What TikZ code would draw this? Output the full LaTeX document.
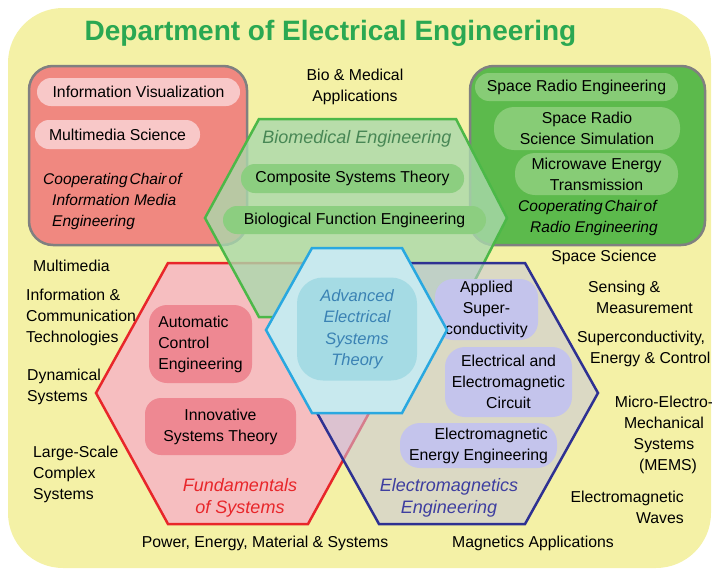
\documentclass[tikz,border=0pt]{standalone}
\usepackage{fontspec}
\setmainfont{Liberation Sans}
\usepackage{xcolor}

\definecolor{bgyellow}{RGB}{244,241,166}
\definecolor{framegray}{RGB}{128,128,128}
\definecolor{redbox}{RGB}{240,136,128}
\definecolor{redpill}{RGB}{248,200,200}
\definecolor{greenbox}{RGB}{92,186,76}
\definecolor{greenpill}{RGB}{135,204,118}
\definecolor{bioedge}{RGB}{76,184,72}
\definecolor{biofill}{RGB}{170,217,172}
\definecolor{biopill}{RGB}{140,206,128}
\definecolor{biotext}{RGB}{72,135,85}
\definecolor{funedge}{RGB}{232,38,42}
\definecolor{funfill}{RGB}{246,190,192}
\definecolor{funpill}{RGB}{238,136,146}
\definecolor{emedge}{RGB}{46,49,146}
\definecolor{emfill}{RGB}{200,198,222}
\definecolor{empill}{RGB}{196,196,236}
\definecolor{emtext}{RGB}{62,62,160}
\definecolor{advedge}{RGB}{41,168,224}
\definecolor{advfill}{RGB}{200,233,238}
\definecolor{advinner}{RGB}{165,219,228}
\definecolor{advtext}{RGB}{58,130,180}
\definecolor{titlegreen}{RGB}{42,168,82}

\begin{document}
\begin{tikzpicture}[
    x=1pt, y=-1pt,
    every node/.style={font=\fontsize{15.8}{21}\selectfont, inner sep=0pt},
    box/.style={draw=framegray, line width=2.5pt, rounded corners=24pt},
    pill/.style={rectangle, rounded corners=14pt, minimum height=28pt, align=center},
    hexa/.style={line width=2.5pt, line join=miter},
    head/.style={font=\fontsize{18}{22}\selectfont\itshape, align=center},
    chair/.style={font=\fontsize{15.5}{21}\selectfont\itshape, anchor=west, align=left},
    txt/.style={align=center}
]
\useasboundingbox (0,0) rectangle (712,573);
\fill[bgyellow, rounded corners=55pt] (8,8) rectangle (711,568);

% chairs
\draw[box, fill=redbox] (29,66) rectangle (247,245);
\node[pill, fill=redpill, minimum width=203pt] (infovis) at (138.5,92) {Information Visualization};
\node[pill, fill=redpill, minimum width=165pt, minimum height=29pt] (mmsci) at (117.5,134.5) {Multimedia Science};
\node[chair] (infochair) at (43,201) {Cooperating\hspace{2pt}Chair\hspace{2pt}of\\\hspace*{9pt}Information Media\\\hspace*{9pt}Engineering};

\draw[box, fill=greenbox] (470,66) rectangle (705,245);
\node[pill, fill=greenpill, minimum width=203pt] (spradio) at (576.5,87) {Space Radio Engineering};
\node[pill, fill=greenpill, rounded corners=20pt, minimum width=186pt, minimum height=43pt] (spsim) at (587,128.5) {Space Radio\\Science Simulation};
\node[pill, fill=greenpill, rounded corners=20pt, minimum width=163pt, minimum height=42pt] (mwave) at (596.5,174) {Microwave Energy\\Transmission};
\node[chair] (radiochair) at (518,218) {Cooperating\hspace{2pt}Chair\hspace{2pt}of\\\hspace*{12pt}Radio Engineering};

% Fundamentals of Systems
\draw[hexa, draw=funedge, fill=funfill] (96,393) -- (168,263) -- (308,263) -- (380,393) -- (308,524) -- (168,524) -- cycle;
\node[pill, fill=funpill, rounded corners=18pt, minimum width=103pt, minimum height=78pt, align=left] (autoctl) at (200.5,344) {Automatic\\Control\\Engineering};
\node[pill, fill=funpill, rounded corners=16pt, minimum width=151pt, minimum height=57pt] (innov) at (220.5,426.5) {Innovative\\Systems Theory};
\node[head, text=funedge] (fundam) at (240,498) {Fundamentals\\of Systems};

% Biomedical Engineering
\draw[hexa, draw=bioedge, fill=biofill, fill opacity=.8] (205,218) -- (259,119) -- (456,119) -- (507,218) -- (456,317) -- (259,317) -- cycle;
\node[head, text=biotext] (biomed) at (357,139) {Biomedical Engineering};
\node[pill, fill=biopill, minimum width=223pt, minimum height=29pt] (compsys) at (352.5,178.5) {Composite Systems Theory};
\node[pill, fill=biopill, minimum width=263pt] (biofunc) at (354.5,220) {Biological Function Engineering};

% Electromagnetics Engineering
\draw[hexa, draw=emedge, fill=emfill, fill opacity=.55] (306,393) -- (379,263) -- (525,263) -- (598,393) -- (525,524) -- (379,524) -- cycle;
\node[pill, fill=empill, rounded corners=18pt, minimum width=103pt, minimum height=61pt] (supcond) at (486.5,309.5) {Applied\\Super-\\conductivity};
\node[pill, fill=empill, rounded corners=20pt, minimum width=127pt, minimum height=70pt] (elcirc) at (508.5,382) {Electrical and\\Electromagnetic\\Circuit};
\node[pill, fill=empill, rounded corners=20pt, minimum width=157pt, minimum height=45pt, align=right] (emenergy) at (478.5,445.5) {Electromagnetic\\Energy Engineering};
\node[head, text=emtext] (emeng) at (449,498) {Electromagnetics\\Engineering};

% Advanced Electrical Systems Theory
\draw[hexa, draw=advedge, fill=advfill] (266,330) -- (312,248) -- (402,248) -- (447,330) -- (402,413) -- (312,413) -- cycle;
\node[head, font=\fontsize{16.5}{21.5}\selectfont\itshape, fill=advinner, rounded corners=26pt, minimum width=120pt, minimum height=103pt, text=advtext] (advanced) at (357,329) {Advanced\\Electrical\\Systems\\Theory};

% research fields
\node[txt] (biomedapp) at (355,86.5) {Bio \& Medical\\Applications};
\node[anchor=west] (multimedia) at (33,266) {Multimedia};
\node[anchor=west, align=left] (ict) at (26,317) {Information \&\\Communication\\Technologies};
\node[anchor=west, align=left] (dynsys) at (27,386.5) {Dynamical\\Systems};
\node[anchor=west, align=left] (largesc) at (33,474) {Large-Scale\\Complex\\Systems};
\node[txt] (power) at (265,543) {Power, Energy, Material \& Systems};
\node[txt] (magapp) at (533,543) {Magnetics Applications};
\node[txt] (spsci) at (604,257) {Space Science};
\node[anchor=west, align=left] (sensing) at (588,297) {Sensing \&\\\hspace*{8pt}Measurement};
\node[anchor=west, align=left] (supenergy) at (577,348.5) {Superconductivity,\\\hspace*{13pt}Energy \& Control};
\node[txt] (mems) at (664,434.5) {Micro-Electro-\\Mechanical\\Systems\\\hspace*{8pt}(MEMS)};
\node[anchor=east, align=right] (emwaves) at (684,507.5) {Electromagnetic\\Waves};

\node[font=\fontsize{28}{34}\selectfont\bfseries, text=titlegreen] (title) at (330.5,33) {Department of Electrical Engineering};
\end{tikzpicture}
\end{document}
